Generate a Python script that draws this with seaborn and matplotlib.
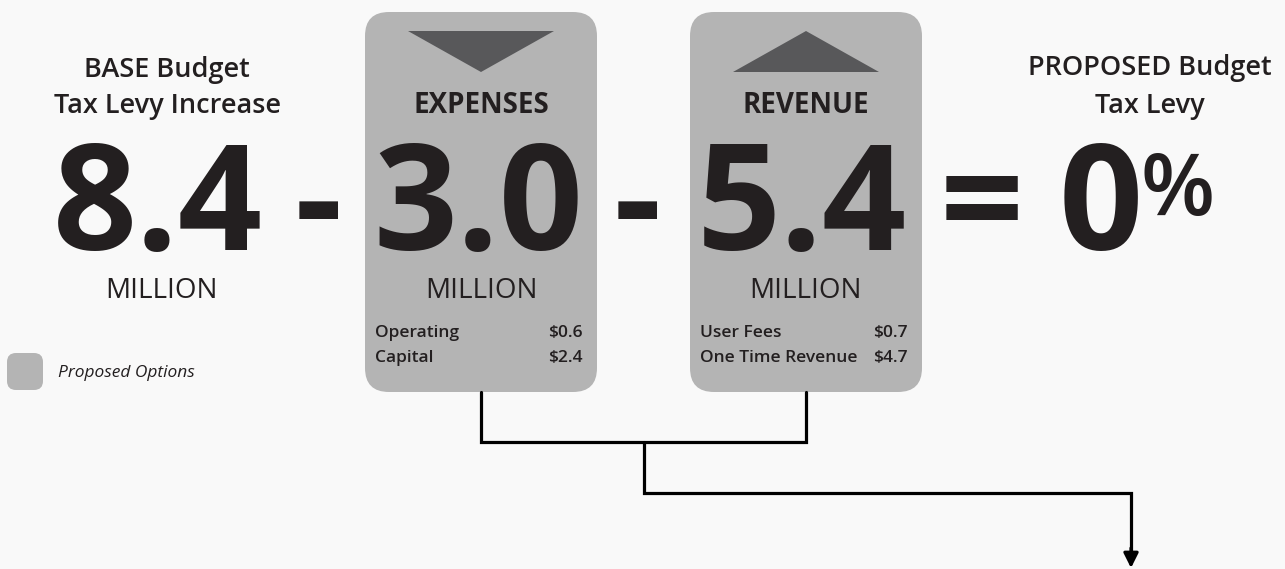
import numpy as np
import pandas as pd
import matplotlib
matplotlib.use("Agg")
import matplotlib.pyplot as plt
import seaborn as sns
from matplotlib.patches import FancyBboxPatch, Polygon

# --- data -------------------------------------------------------------
side_titles = [["BASE Budget", "Tax Levy Increase"], ["PROPOSED Budget", "Tax Levy"]]
box_titles = ["EXPENSES", "REVENUE"]
big_values = ["8.4", "3.0", "5.4", "0"]
operators = ["-", "-", "="]
unit_label = "MILLION"
expense_items = ["Operating", "Capital"]
expense_amounts = [0.6, 2.4]
revenue_items = ["User Fees", "One Time Revenue"]
revenue_amounts = [0.7, 4.7]
legend_label = "Proposed Options"

# --- style ------------------------------------------------------------
sns.set_theme(style="white")
plt.rcParams["font.family"] = ["Open Sans", "DejaVu Sans"]
ink = "#231f20"
box_col = "#b4b4b4"
tri_col = "#58585a"
bg = "#f9f9f9"

fig = plt.figure(figsize=(12.85, 5.69), dpi=100, facecolor=bg)
ax = fig.add_axes([0, 0, 1, 1])
ax.set_xlim(0, 1285)
ax.set_ylim(569, 0)
ax.set_facecolor(bg)
ax.axis("off")

# gray option boxes
box_x = [365, 690]
box_w = 232
for x0 in box_x:
    ax.add_patch(FancyBboxPatch((x0, 12), box_w, 380,
                 boxstyle="round,pad=0,rounding_size=24",
                 fc=box_col, ec="none", zorder=1))
centers = [x0 + box_w / 2 for x0 in box_x]

# triangles: down for expenses, up for revenue
ax.add_patch(Polygon([(centers[0] - 73, 31), (centers[0] + 73, 31), (centers[0], 72)],
                     closed=True, fc=tri_col, ec="none", zorder=2))
ax.add_patch(Polygon([(centers[1] - 73, 72), (centers[1] + 73, 72), (centers[1], 31)],
                     closed=True, fc=tri_col, ec="none", zorder=2))

# side titles
for (l1, l2), cx, b1 in zip(side_titles, [167, 1150], [77, 75]):
    ax.text(cx, b1, l1, ha="center", va="baseline", fontsize=19.5,
            fontweight="semibold", color=ink)
    ax.text(cx, 113, l2, ha="center", va="baseline", fontsize=19.5,
            fontweight="semibold", color=ink)

for t, cx in zip(box_titles, centers):
    ax.text(cx, 113, t, ha="center", va="baseline", fontsize=20,
            fontweight="bold", color=ink, zorder=3)

# big numbers
num_x = [158, centers[0] - 3, centers[1] - 4, 1101]
for v, cx in zip(big_values, num_x):
    ax.text(cx, 250, v, ha="center", va="baseline", fontsize=106,
            fontweight="bold", color=ink, zorder=3)
ax.text(1140, 215, "%", ha="left", va="baseline", fontsize=62,
        fontweight="semibold", color=ink)

for op, cx in zip(operators, [318, 637, 982]):
    ax.text(cx, 250, op, ha="center", va="baseline", fontsize=106,
            fontweight="bold", color=ink)

for cx in [162, centers[0], centers[1]]:
    ax.text(cx, 298, unit_label, ha="center", va="baseline", fontsize=20,
            color=ink, zorder=3)

# breakdown lines inside boxes
rows = [337, 362]
for items, amounts, x0 in [(expense_items, expense_amounts, box_x[0]),
                           (revenue_items, revenue_amounts, box_x[1])]:
    for it, am, yb in zip(items, amounts, rows):
        ax.text(x0 + 10, yb, it, ha="left", va="baseline", fontsize=12.5,
                fontweight="semibold", color=ink, zorder=3)
        ax.text(x0 + box_w - 14, yb, f"${am:.1f}", ha="right", va="baseline",
                fontsize=12.5, fontweight="semibold", color=ink, zorder=3)

# connector lines
lw = 2.3
ax.plot([centers[0], centers[0], centers[1], centers[1]], [392, 442, 442, 392],
        color="black", lw=lw, solid_joinstyle="miter", zorder=2)
ax.plot([644, 644, 1131, 1131], [442, 493, 493, 552],
        color="black", lw=lw, solid_joinstyle="miter", zorder=2)
ax.annotate("", xy=(1131, 568), xytext=(1131, 548),
            arrowprops=dict(arrowstyle="-|>", color="black", lw=lw,
                            mutation_scale=22, shrinkA=0, shrinkB=0))

# legend
ax.add_patch(FancyBboxPatch((7, 353), 36, 37, boxstyle="round,pad=0,rounding_size=9",
                            fc=box_col, ec="none"))
ax.text(58, 377, legend_label, ha="left", va="baseline", fontsize=12.5,
        fontstyle="italic", color=ink)

fig.savefig("out.png", dpi=100, facecolor=bg)
